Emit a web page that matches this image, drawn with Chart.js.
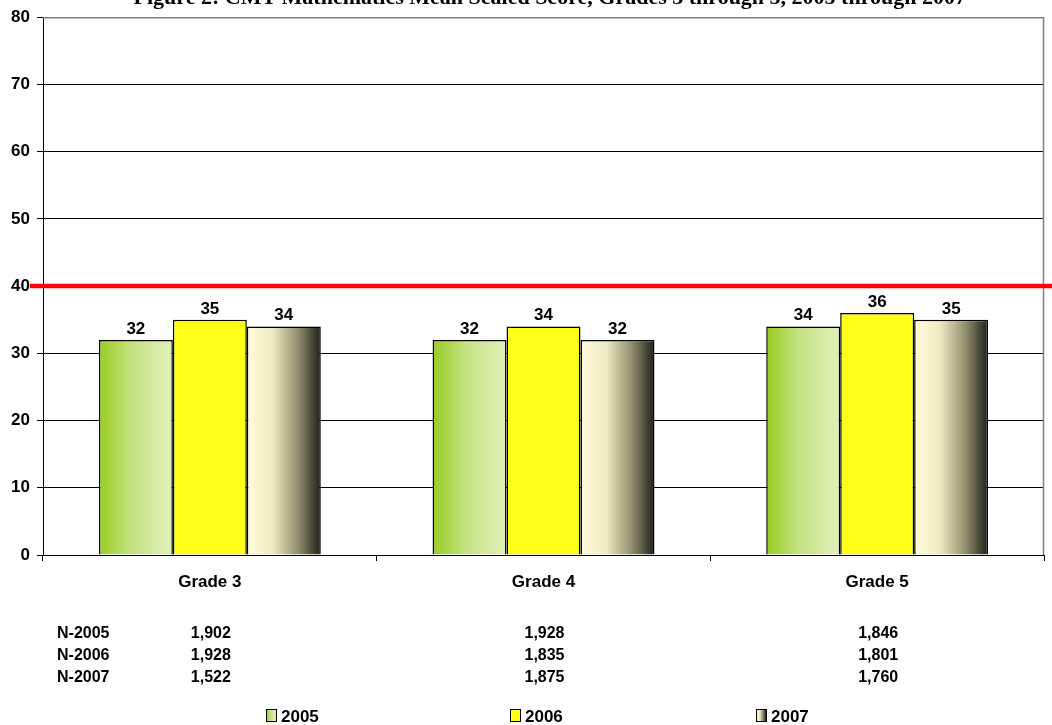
<!DOCTYPE html>
<html>
<head>
<meta charset="utf-8">
<script src="https://cdn.jsdelivr.net/npm/chart.js@4"></script>
<style>
html,body{margin:0;padding:0;background:#fff;}
#wrap{position:relative;width:1052px;height:725px;}
</style>
</head>
<body>
<div id="wrap"><canvas id="c" width="1052" height="725"></canvas></div>
<script>
const titleText = "Figure 2: CMT Mathematics Mean Scaled Score, Grades 3 through 5, 2005 through 2007";
const categories = ["Grade 3", "Grade 4", "Grade 5"];
const seriesLabels = ["2005", "2006", "2007"];
const scores2005 = [32, 32, 34];
const scores2006 = [35, 34, 36];
const scores2007 = [34, 32, 35];
const nLabels = ["N-2005", "N-2006", "N-2007"];
const n2005 = ["1,902", "1,928", "1,846"];
const n2006 = ["1,928", "1,835", "1,801"];
const n2007 = ["1,522", "1,875", "1,760"];
const targetValue = 40;
const yTicks = [0, 10, 20, 30, 40, 50, 60, 70, 80];

const FONT = '"Liberation Sans", Arial, sans-serif';

function makeGrad(ctx, x0, x1, idx) {
  const g = ctx.createLinearGradient(x0, 0, x1, 0);
  if (idx === 0) {
    g.addColorStop(0, '#99cc22');
    g.addColorStop(0.45, '#c4e283');
    g.addColorStop(1, '#e2f1bc');
  } else if (idx === 1) {
    g.addColorStop(0, '#ffff1a');
    g.addColorStop(1, '#ffff1a');
  } else {
    g.addColorStop(0, '#fffcdc');
    g.addColorStop(0.35, '#efeac2');
    g.addColorStop(0.7, '#8f8d6e');
    g.addColorStop(1, '#1e1e16');
  }
  return g;
}

const fallback = ['#b5d95a', '#ffff1a', '#a8a680'];

const gradientPlugin = {
  id: 'grad',
  beforeDatasetsDraw(chart) {
    const ctx = chart.ctx;
    chart.data.datasets.forEach((ds, di) => {
      const meta = chart.getDatasetMeta(di);
      meta.data.forEach(el => {
        const x0 = el.x - el.width / 2, x1 = el.x + el.width / 2;
        el.options.backgroundColor = makeGrad(ctx, x0, x1, di);
      });
    });
  }
};

const overlayPlugin = {
  id: 'overlay',
  beforeDraw(chart) {
    const ctx = chart.ctx;
    ctx.save();
    ctx.fillStyle = '#fff';
    ctx.fillRect(0, 0, chart.width, chart.height);
    ctx.restore();
  },
  afterDatasetsDraw(chart) {
    const ctx = chart.ctx;
    const ca = chart.chartArea;
    const ys = chart.scales.y, xs = chart.scales.x;
    ctx.save();
    // plot area border (top/right)
    ctx.strokeStyle = '#808080';
    ctx.lineWidth = 1.5;
    ctx.beginPath();
    ctx.moveTo(ca.left, ca.top + 0.5);
    ctx.lineTo(ca.right - 0.5, ca.top + 0.5);
    ctx.lineTo(ca.right - 0.5, ca.bottom);
    ctx.stroke();
    // target line
    const yt = ys.getPixelForValue(targetValue);
    ctx.strokeStyle = '#ff0000';
    ctx.lineWidth = 4.5;
    ctx.beginPath();
    ctx.moveTo(30, yt);
    ctx.lineTo(chart.width, yt);
    ctx.stroke();
    // data labels
    ctx.fillStyle = '#000';
    ctx.font = 'bold 17px ' + FONT;
    ctx.textAlign = 'center';
    ctx.textBaseline = 'alphabetic';
    chart.data.datasets.forEach((ds, di) => {
      const meta = chart.getDatasetMeta(di);
      meta.data.forEach((el, i) => {
        ctx.fillText(String(ds.data[i]), el.x, el.y - 6);
      });
    });
    // title (clipped at top)
    ctx.font = 'bold 22px "Liberation Serif", "Times New Roman", serif';
    ctx.textAlign = 'right';
    ctx.fillText(titleText, 966, 4);
    // N table
    const rows = [n2005, n2006, n2007];
    ctx.font = 'bold 16px ' + FONT;
    rows.forEach((r, ri) => {
      const y = 638 + ri * 22;
      ctx.textAlign = 'left';
      ctx.fillText(nLabels[ri], 57, y);
      ctx.textAlign = 'center';
      r.forEach((v, ci) => {
        ctx.fillText(v, xs.getPixelForValue(ci) + 1, y);
      });
    });
    // legend
    const legX = [266, 510, 756];
    ctx.font = 'bold 17px ' + FONT;
    ctx.textAlign = 'left';
    seriesLabels.forEach((lab, i) => {
      const bx = legX[i], by = 709;
      ctx.fillStyle = makeGrad(ctx, bx, bx + 10, i);
      ctx.fillRect(bx, by, 10, 12);
      ctx.strokeStyle = '#000';
      ctx.lineWidth = 1;
      ctx.strokeRect(bx + 0.5, by + 0.5, 10, 12);
      ctx.fillStyle = '#000';
      ctx.fillText(lab, bx + 15, 722);
    });
    ctx.restore();
  }
};

const seriesData = [scores2005, scores2006, scores2007];
const datasets = seriesLabels.map((lab, i) => ({
  label: lab,
  data: seriesData[i],
  backgroundColor: () => fallback[i],
  borderColor: '#000',
  borderWidth: 1.5,
  borderSkipped: 'bottom',
  barPercentage: 1.0,
  categoryPercentage: 0.665
}));

new Chart(document.getElementById('c'), {
  type: 'bar',
  data: { labels: categories, datasets },
  options: {
    responsive: false,
    animation: false,
    devicePixelRatio: 1,
    layout: { padding: { top: 15, right: 8, left: 0, bottom: 0 } },
    plugins: { legend: { display: false }, title: { display: false }, tooltip: { enabled: false } },
    scales: {
      x: {
        offset: true,
        grid: { offset: true, drawOnChartArea: false, drawTicks: true, tickLength: 6, color: '#000' },
        border: { color: '#000', width: 1 },
        ticks: { color: '#000', font: { family: FONT, size: 17, weight: 'bold' }, padding: 11, maxRotation: 0 },
        afterFit(s) { s.height = 170; }
      },
      y: {
        min: 0, max: 80,
        afterBuildTicks(s) { s.ticks = yTicks.map(v => ({ value: v })); },
        grid: { color: '#000', lineWidth: 1, tickLength: 6, drawTicks: true },
        border: { color: '#000', width: 1 },
        ticks: { color: '#000', font: { family: FONT, size: 17, weight: 'bold' }, padding: 7 },
        afterFit(s) { s.width = 43; }
      }
    }
  },
  plugins: [gradientPlugin, overlayPlugin]
});
</script>
</body>
</html>
